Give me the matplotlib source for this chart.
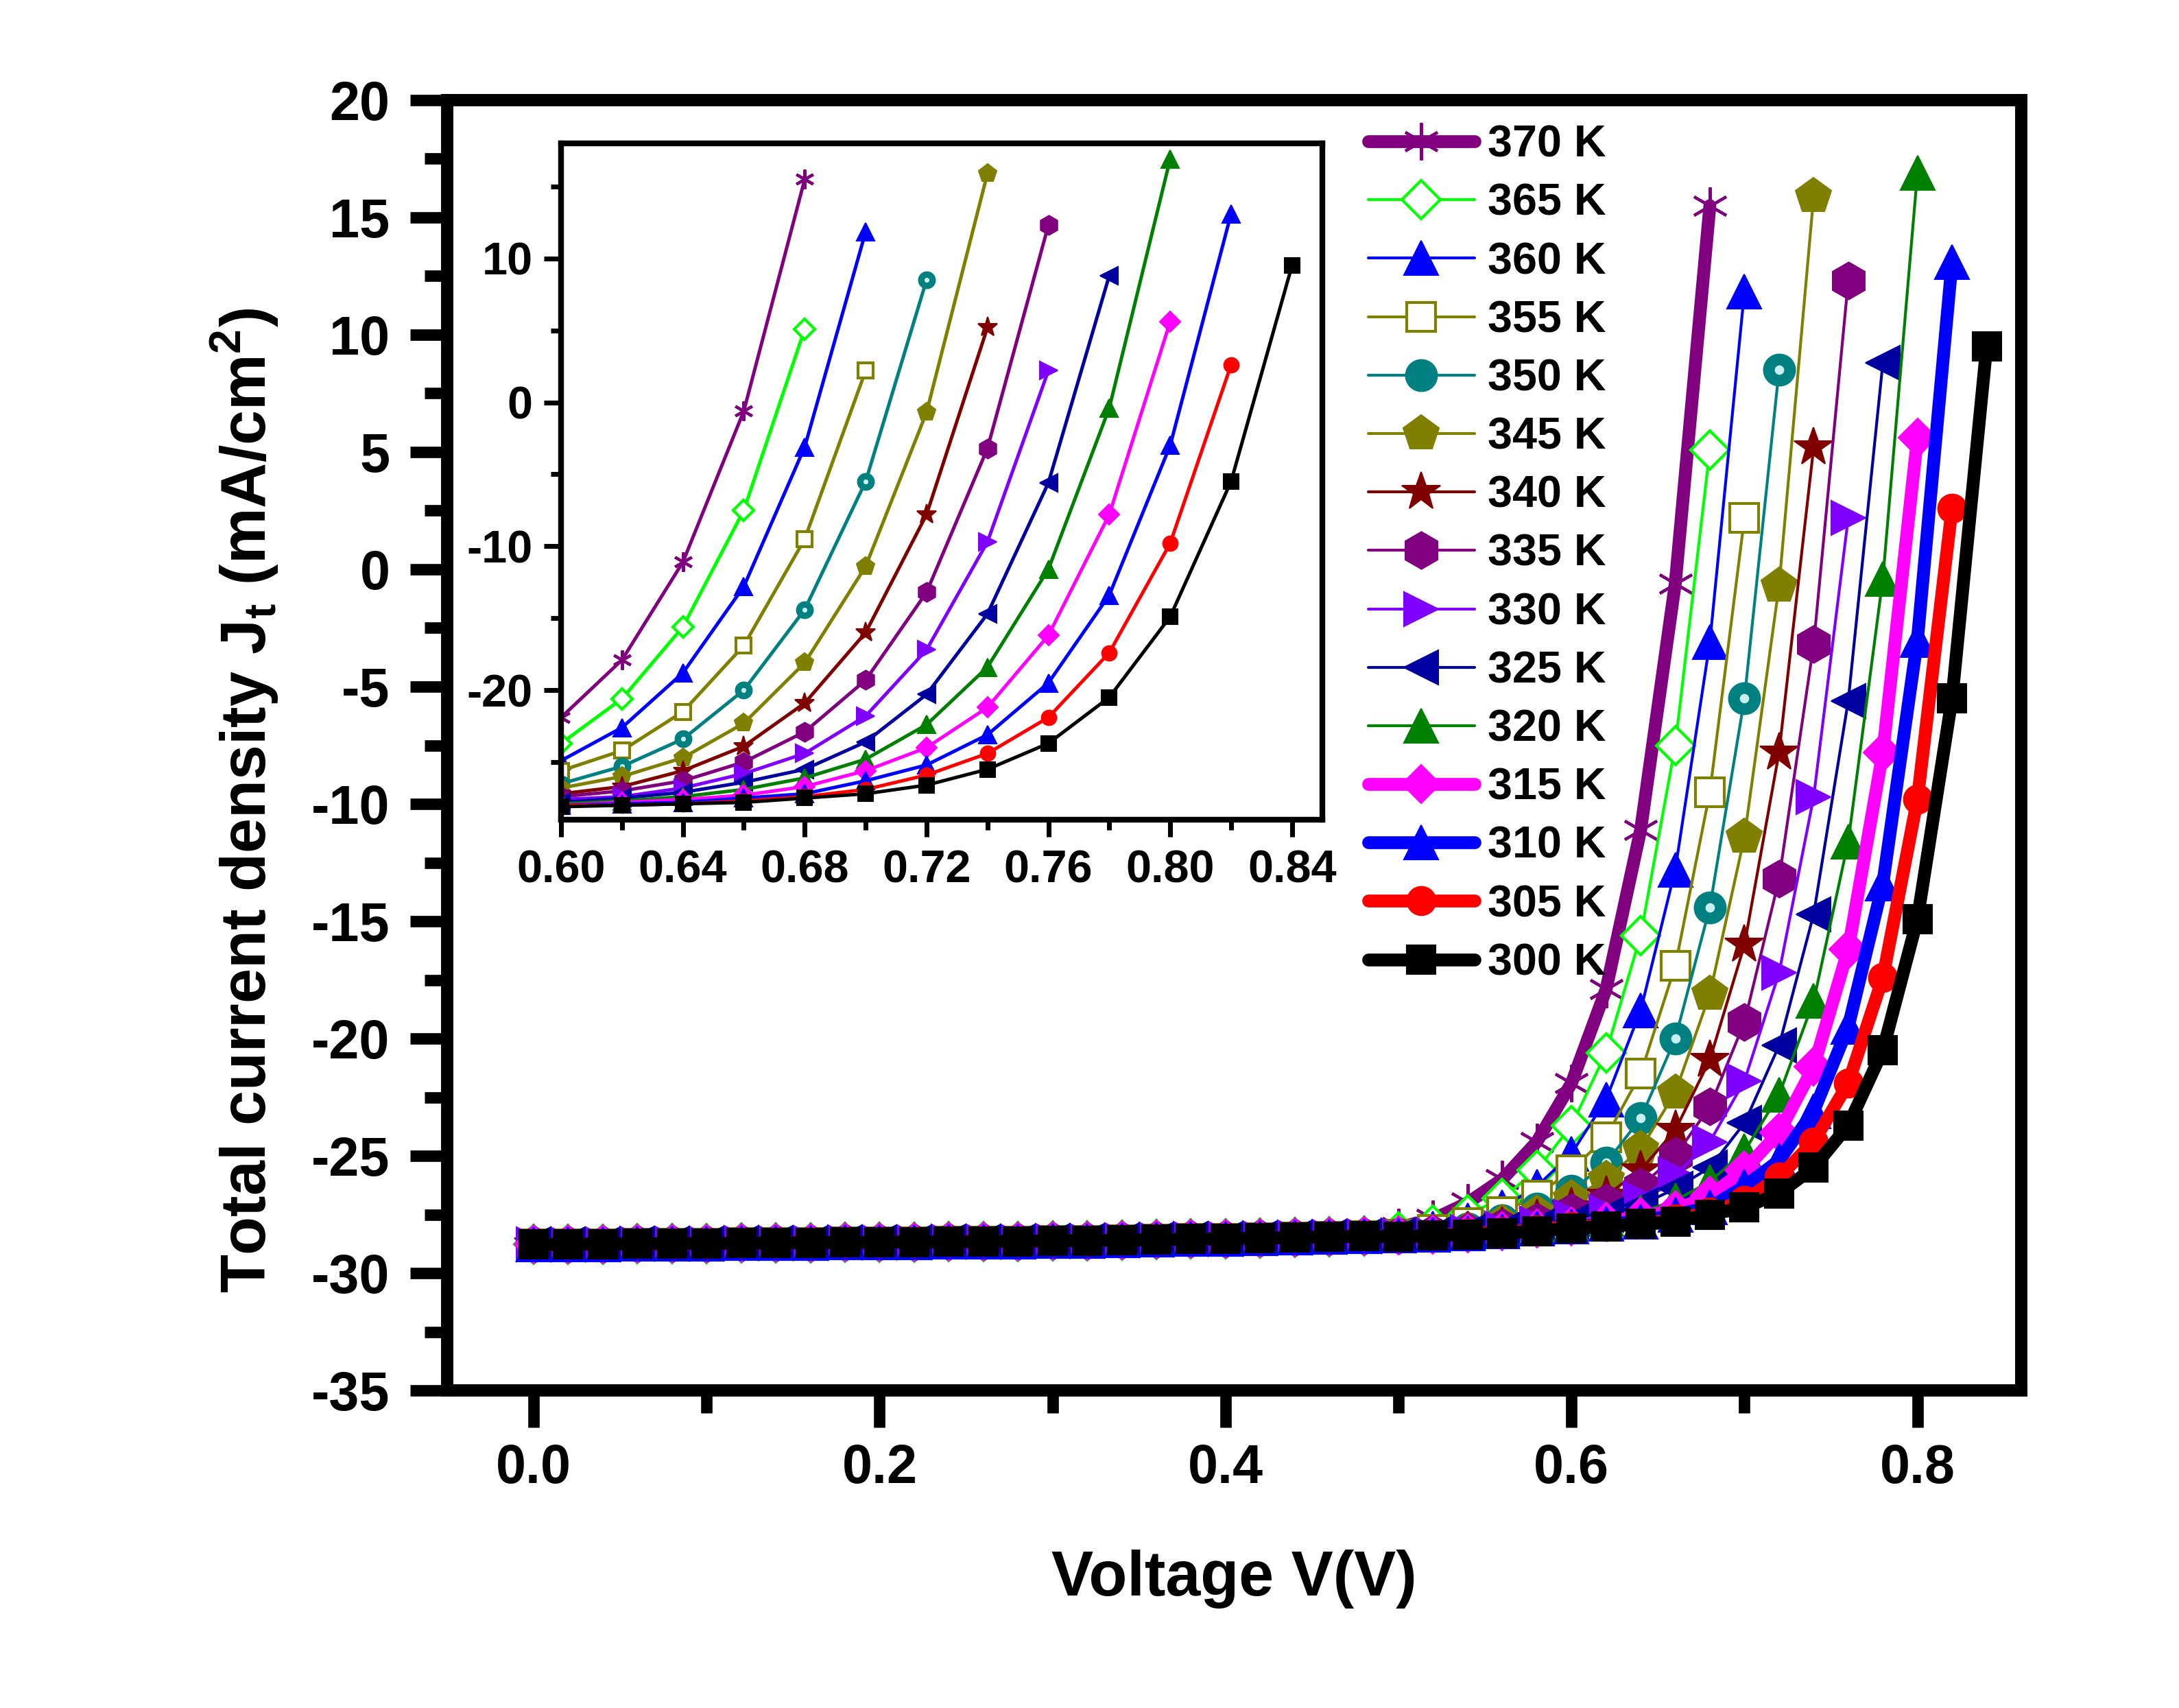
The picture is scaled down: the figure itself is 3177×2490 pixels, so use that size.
import matplotlib
matplotlib.use("Agg")
from matplotlib import pyplot as plt
from matplotlib.ticker import MultipleLocator, FormatStrFormatter

plt.rcParams['font.family'] = ['Liberation Sans', 'DejaVu Sans']
plt.rcParams['font.weight'] = 'bold'
plt.rcParams['axes.labelweight'] = 'bold'
plt.rcParams['axes.unicode_minus'] = False
plt.rcParams['mathtext.fontset'] = 'custom'
plt.rcParams['mathtext.rm'] = 'Liberation Sans:bold'
plt.rcParams['mathtext.bf'] = 'Liberation Sans:bold'

voltage = [0.00, 0.02, 0.04, 0.06, 0.08, 0.10, 0.12, 0.14, 0.16, 0.18,
           0.20, 0.22, 0.24, 0.26, 0.28, 0.30, 0.32, 0.34, 0.36, 0.38,
           0.40, 0.42, 0.44, 0.46, 0.48, 0.50, 0.52, 0.54, 0.56, 0.58,
           0.60, 0.62, 0.64, 0.66, 0.68, 0.70, 0.72, 0.74, 0.76, 0.78,
           0.80, 0.82, 0.84]

# below 0.5 V all the temperatures lie on top of each other
j_low = [-28.78, -28.77, -28.76, -28.75, -28.74, -28.73, -28.72, -28.71, -28.70, -28.69,
         -28.68, -28.67, -28.66, -28.65, -28.64, -28.62, -28.61, -28.59, -28.57, -28.55,
         -28.53, -28.51, -28.48, -28.45, -28.42]

# from 0.50 V up to the last point of each curve
j_370 = [-28.05, -27.7, -27.0, -26.0, -24.4, -21.9, -17.9, -11.1, -0.6, 15.5]
j_365 = [-28.25, -27.95, -27.5, -26.8, -25.6, -23.7, -20.6, -15.6, -7.5, 5.1]
j_360 = [-28.3, -28.1, -27.75, -27.2, -26.3, -24.9, -22.6, -18.8, -12.8, -3.1, 11.85]
j_355 = [-28.35, -28.15, -27.85, -27.4, -26.7, -25.6, -24.2, -21.5, -16.9, -9.5, 2.2]
j_350 = [-28.4, -28.3, -28.1, -27.75, -27.25, -26.5, -25.3, -23.4, -20.0, -14.4, -5.5, 8.5]
j_345 = [-28.4, -28.3, -28.15, -27.85, -27.45, -26.8, -26.0, -24.7, -22.3, -18.1, -11.4, -0.7, 15.9]
j_340 = [-28.4, -28.35, -28.2, -28.0, -27.7, -27.2, -26.7, -25.6, -23.9, -20.9, -16.0, -7.8, 5.2]
j_335 = [-28.4, -28.3, -28.2, -28.05, -27.8, -27.4, -27.0, -26.3, -25.0, -22.9, -19.3, -13.2, -3.2, 12.3]
j_330 = [-28.4, -28.35, -28.25, -28.1, -27.9, -27.6, -27.4, -26.8, -25.8, -24.4, -21.8, -17.2, -9.7, 2.2]
j_325 = [-28.4, -28.35, -28.25, -28.15, -28.0, -27.8, -27.5, -27.1, -26.4, -25.5, -23.6, -20.3, -14.7, -5.6, 8.8]
j_320 = [-28.4, -28.35, -28.3, -28.2, -28.05, -27.9, -27.7, -27.4, -26.9, -26.1, -24.8, -22.4, -18.4, -11.6, -0.4, 16.9]
j_315 = [-28.4, -28.35, -28.3, -28.2, -28.1, -28.0, -27.8, -27.6, -27.3, -26.7, -25.6, -24.0, -21.2, -16.2, -7.8, 5.6]
j_310 = [-28.4, -28.35, -28.3, -28.2, -28.1, -28.0, -27.9, -27.8, -27.5, -27.2, -26.3, -25.2, -23.1, -19.5, -13.4, -3.0, 13.1]
j_305 = [-28.45, -28.4, -28.3, -28.25, -28.15, -28.0, -28.0, -27.9, -27.7, -27.4, -26.9, -25.9, -24.4, -21.9, -17.4, -9.8, 2.6]
j_300 = [-28.45, -28.4, -28.35, -28.3, -28.2, -28.1, -28.0, -27.9, -27.8, -27.5, -27.2, -26.6, -25.5, -23.7, -20.5, -14.9, -5.5, 9.5]

labels = ["370 K", "365 K", "360 K", "355 K", "350 K", "345 K", "340 K", "335 K",
          "330 K", "325 K", "320 K", "315 K", "310 K", "305 K", "300 K"]
curves = [j_370, j_365, j_360, j_355, j_350, j_345, j_340, j_335,
          j_330, j_325, j_320, j_315, j_310, j_305, j_300]

# color, marker, marker size, thick line?, open marker?
styles = [
    ("#800080", (6, 2, 0), 13, True, False),
    ("#00FF00", "D", 9.5, False, True),
    ("#0000FF", "^", 12, False, False),
    ("#808000", "s", 10, False, True),
    ("#008080", "o", 11, False, False),
    ("#808000", "p", 13, False, False),
    ("#800000", "*", 14, False, False),
    ("#800080", "h", 13, False, False),
    ("#8000FF", ">", 12, False, False),
    ("#0000A0", "<", 12, False, False),
    ("#008000", "^", 12, False, False),
    ("#FF00FF", "D", 9.5, True, False),
    ("#0000FF", "^", 12, True, False),
    ("#FF0000", "o", 10, True, False),
    ("#000000", "s", 10, True, False),
]


def drawCurves(ax, inset):
    for lab, jh, st in zip(labels, curves, styles):
        color, mk, ms, thick, hollow = st
        j = j_low + jh
        v = voltage[:len(j)]
        if inset:
            lw = 1.2
            ms = ms * 0.52
        else:
            lw = 4.5 if thick else 1.0
        mew = 1.0 if (hollow or mk == (6, 2, 0)) else 0.5
        ax.plot(v, j, color=color, lw=lw, marker=mk, ms=ms,
                mfc="white" if hollow else color, mec=color, mew=mew,
                solid_capstyle="round", label=None if inset else lab)
        if mk == "o" and color == "#008080":
            # little shine on the sphere markers
            ax.plot(v, j, ls="none", marker="o", ms=ms * 0.3,
                    mfc="#c8f0f0", mec="none")


def main():
    fig = plt.figure(figsize=(3177 / 300, 2490 / 300), dpi=300)
    ax = fig.add_axes([0.2052, 0.1859, 0.7224, 0.7555])
    drawCurves(ax, False)

    ax.set_xlim(-0.05, 0.86)
    ax.set_ylim(-35, 20)
    ax.xaxis.set_major_locator(MultipleLocator(0.2))
    ax.xaxis.set_minor_locator(MultipleLocator(0.1))
    ax.xaxis.set_major_formatter(FormatStrFormatter('%.1f'))
    ax.yaxis.set_major_locator(MultipleLocator(5))
    ax.yaxis.set_minor_locator(MultipleLocator(2.5))
    for s in ax.spines.values():
        s.set_linewidth(4.3)
    ax.tick_params(which='both', direction='out', top=False, right=False, width=4)
    ax.tick_params(which='major', length=13, labelsize=19)
    ax.tick_params(which='minor', length=8)
    ax.tick_params(axis='x', pad=5.5)
    ax.tick_params(axis='y', pad=7)

    ax.set_xlabel("Voltage V(V)", fontsize=22)
    ax.set_ylabel(r"Total current density J$_\mathbf{t}$ (mA/cm$^\mathbf{2}$)", fontsize=22)
    ax.xaxis.set_label_coords(0.5, -0.1235)
    ax.yaxis.set_label_coords(-0.106, 0.457)

    ax.legend(loc='upper left', bbox_to_anchor=(0.585, 0.981), frameon=False,
              fontsize=15.5, numpoints=1, handlelength=2.4, handletextpad=0.3,
              labelspacing=0.39, borderpad=0, borderaxespad=0)

    ins = fig.add_axes([0.2575, 0.5201, 0.3494, 0.396])
    drawCurves(ins, True)
    ins.set_xlim(0.60, 0.85)
    ins.set_ylim(-29, 18)
    ins.xaxis.set_major_locator(MultipleLocator(0.04))
    ins.xaxis.set_minor_locator(MultipleLocator(0.02))
    ins.xaxis.set_major_formatter(FormatStrFormatter('%.2f'))
    ins.yaxis.set_major_locator(MultipleLocator(10))
    ins.yaxis.set_minor_locator(MultipleLocator(5))
    for s in ins.spines.values():
        s.set_linewidth(2)
    ins.tick_params(which='both', direction='out', top=False, right=False, width=1.7)
    ins.tick_params(which='major', length=6, labelsize=16)
    ins.tick_params(which='minor', length=3.5)
    ins.tick_params(axis='x', pad=4.5)
    ins.tick_params(axis='y', pad=4)

    fig.savefig("out.png", dpi=300)


if (__name__ == "__main__"):
    main()
